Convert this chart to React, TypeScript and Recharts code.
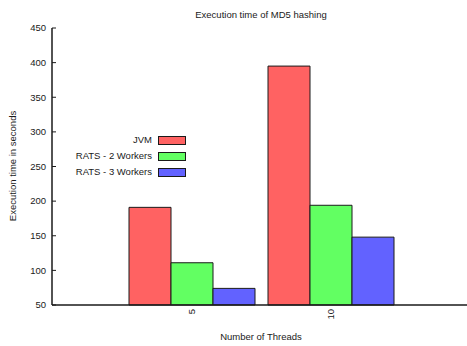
import { Bar, BarChart, Customized, Legend, XAxis, YAxis } from "recharts";

const threads = ["5", "10"];
const jvm = [191, 395];
const rats2 = [111, 194];
const rats3 = [74, 148];
const yTicks = [50, 100, 150, 200, 250, 300, 350, 400, 450];

const seriesNames = ["JVM", "RATS - 2 Workers", "RATS - 3 Workers"];
const seriesColors = ["#ff6262", "#62ff62", "#6262ff"];

const data = threads.map((t, i) => ({
  threads: t,
  jvm: jvm[i],
  rats2: rats2[i],
  rats3: rats3[i],
}));

const FONT = "'Liberation Sans', Arial, Helvetica, sans-serif";
const INK = "#1a1a1a";

function RotatedTick({ x, y, payload }: any) {
  return (
    <text
      x={x}
      y={y}
      transform={`rotate(-90, ${x}, ${y})`}
      textAnchor="end"
      dy="0.35em"
      fontSize={9.5}
      fontFamily={FONT}
      fill={INK}
    >
      {payload.value}
    </text>
  );
}

function Labels() {
  return (
    <g fontFamily={FONT} fill={INK} fontSize={9.5}>
      <text x={261} y={14} textAnchor="middle" dominantBaseline="central">
        Execution time of MD5 hashing
      </text>
      <text x={261} y={336} textAnchor="middle" dominantBaseline="central">
        Number of Threads
      </text>
      <text
        x={12}
        y={166}
        transform="rotate(-90, 12, 166)"
        textAnchor="middle"
        dominantBaseline="central"
      >
        Execution time in seconds
      </text>
    </g>
  );
}

function LegendBox() {
  return (
    <div style={{ position: "relative", fontFamily: FONT, fontSize: 9.5, color: INK }}>
      {seriesNames.map((name, i) => {
        const cy = 140 + i * 16;
        return (
          <div key={name}>
            <div
              style={{
                position: "absolute",
                left: 0,
                width: 152,
                top: cy - 8,
                height: 16,
                lineHeight: "16px",
                textAlign: "right",
                whiteSpace: "nowrap",
              }}
            >
              {name}
            </div>
            <div
              style={{
                position: "absolute",
                left: 158,
                top: cy - 4,
                width: 28,
                height: 9,
                boxSizing: "border-box",
                border: `1px solid ${INK}`,
                background: seriesColors[i],
              }}
            />
          </div>
        );
      })}
    </div>
  );
}

const blank = () => "";

export default function App() {
  return (
    <div style={{ position: "absolute", left: 0, top: 0, width: 467, height: 346, overflow: "hidden", background: "#fff" }}>
      <BarChart
        width={470}
        height={346}
        data={data}
        margin={{ top: 28, right: 0, bottom: 0, left: 0 }}
        barGap={0}
        barSize={42}
      >
        <XAxis
          dataKey="threads"
          xAxisId="b"
          height={41}
          padding={{ left: 70, right: 70 }}
          axisLine={{ stroke: INK, strokeWidth: 1.5 }}
          tickLine={false}
          tickSize={-4}
          tickMargin={8}
          tick={<RotatedTick />}
          interval={0}
        />
        <XAxis
          dataKey="threads"
          xAxisId="t"
          orientation="top"
          height={0}
          padding={{ left: 70, right: 70 }}
          axisLine={{ stroke: INK, strokeWidth: 1.5 }}
          tickLine={{ stroke: INK }}
          tickSize={-4}
          tickFormatter={blank}
          interval={0}
        />
        <YAxis
          yAxisId="l"
          width={52}
          domain={[50, 450]}
          ticks={yTicks}
          interval={0}
          axisLine={{ stroke: INK, strokeWidth: 1.5 }}
          tickLine={{ stroke: INK }}
          tickSize={-4}
          tickMargin={10}
          tick={{ fontSize: 9.5, fontFamily: FONT, fill: INK }}
        />
        <YAxis
          yAxisId="r"
          orientation="right"
          width={0}
          domain={[50, 450]}
          ticks={yTicks}
          interval={0}
          axisLine={{ stroke: INK, strokeWidth: 1.5 }}
          tickLine={{ stroke: INK }}
          tickSize={-4}
          tickFormatter={blank}
        />
        <Legend
          layout="horizontal"
          verticalAlign="middle"
          align="center"
          content={() => <LegendBox />}
          wrapperStyle={{ left: 0, top: 0, width: 200, height: 0 }}
        />
        <Bar dataKey="jvm" name={seriesNames[0]} xAxisId="b" yAxisId="l" fill={seriesColors[0]} stroke={INK} strokeWidth={1} isAnimationActive={false} />
        <Bar dataKey="rats2" name={seriesNames[1]} xAxisId="b" yAxisId="l" fill={seriesColors[1]} stroke={INK} strokeWidth={1} isAnimationActive={false} />
        <Bar dataKey="rats3" name={seriesNames[2]} xAxisId="b" yAxisId="l" fill={seriesColors[2]} stroke={INK} strokeWidth={1} isAnimationActive={false} />
        <Customized component={<Labels />} />
      </BarChart>
    </div>
  );
}
